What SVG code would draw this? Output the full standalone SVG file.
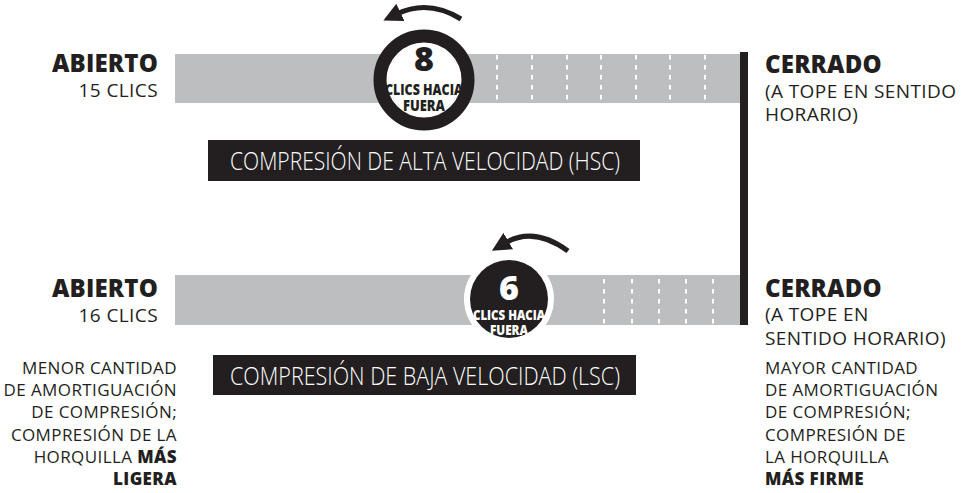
<svg xmlns="http://www.w3.org/2000/svg" width="970" height="493" viewBox="0 0 970 493">
<defs>
<marker id="ah" viewBox="0 0 10 10" refX="2" refY="5" markerWidth="3.8" markerHeight="3.8" orient="auto" markerUnits="strokeWidth">
<path d="M0,0 L10,5 L0,10 z" fill="#231f20"/>
</marker>
<style>
.bold{font-family:"Open Sans","Liberation Sans",sans-serif;font-weight:800;fill:#231f20}
.reg{font-family:"Open Sans","Liberation Sans",sans-serif;font-weight:400;fill:#231f20}
.bar{fill:#bcbec0}
.dash{stroke:#fff;stroke-width:2;stroke-dasharray:4.5,5.5}
.lbl{font-family:"Open Sans","Liberation Sans",sans-serif;font-weight:300;fill:#fff;font-size:25px}
.box{fill:#231f20}
.arc{fill:none;stroke:#231f20;stroke-width:5}
.dial{font-family:"Open Sans","Liberation Sans",sans-serif;font-weight:800}
.h1{font-size:24px;letter-spacing:0.2px}
.h2{font-size:19px;letter-spacing:0.4px}
.d{font-size:17px;letter-spacing:0.4px}
</style>
</defs>
<rect width="970" height="493" fill="#fff"/>

<g id="hsc-bar">
<rect class="bar" x="175" y="54" width="565" height="49"/>
<g class="dash">
<line x1="497" y1="55" x2="497" y2="103"/>
<line x1="532" y1="55" x2="532" y2="103"/>
<line x1="567" y1="55" x2="567" y2="103"/>
<line x1="601" y1="55" x2="601" y2="103"/>
<line x1="636" y1="55" x2="636" y2="103"/>
<line x1="670" y1="55" x2="670" y2="103"/>
<line x1="705" y1="55" x2="705" y2="103"/>
</g>
</g>

<g id="lsc-bar">
<rect class="bar" x="175" y="275" width="565" height="50"/>
<g class="dash">
<line x1="604" y1="279" x2="604" y2="325"/>
<line x1="632" y1="279" x2="632" y2="325"/>
<line x1="659" y1="279" x2="659" y2="325"/>
<line x1="686" y1="279" x2="686" y2="325"/>
<line x1="713" y1="279" x2="713" y2="325"/>
</g>
</g>

<g id="closed-line">
<rect x="740" y="52" width="8" height="273" fill="#231f20"/>
</g>

<g id="connectors">
<path class="arc" d="M461,19 Q428,-1 397,14" marker-end="url(#ah)"/>
<path class="arc" d="M568,251 Q534,226 505,243" marker-end="url(#ah)"/>
</g>

<g id="hsc-dial">
<circle cx="424" cy="80" r="44" fill="#fff" stroke="#231f20" stroke-width="13"/>
<text class="dial" x="424" y="71" font-size="34" text-anchor="middle" fill="#231f20">8</text>
<text class="dial" x="424" y="95" font-size="15" text-anchor="middle" fill="#231f20" textLength="78" lengthAdjust="spacingAndGlyphs">CLICS HACIA</text>
<text class="dial" x="424" y="111" font-size="15" text-anchor="middle" fill="#231f20" textLength="42" lengthAdjust="spacingAndGlyphs">FUERA</text>
</g>

<g id="lsc-dial">
<circle cx="509" cy="299" r="45" fill="#fff"/>
<circle cx="509" cy="299" r="39" fill="#231f20"/>
<text class="dial" x="509" y="300" font-size="34" text-anchor="middle" fill="#fff">6</text>
<text class="dial" x="509" y="320" font-size="14" text-anchor="middle" fill="#fff" textLength="72" lengthAdjust="spacingAndGlyphs">CLICS HACIA</text>
<text class="dial" x="509" y="335" font-size="14" text-anchor="middle" fill="#fff" textLength="38" lengthAdjust="spacingAndGlyphs">FUERA</text>
</g>

<g id="hsc-label">
<rect class="box" x="208" y="140" width="432" height="41"/>
<text class="lbl" x="425" y="170" text-anchor="middle" textLength="390" lengthAdjust="spacingAndGlyphs">COMPRESIÓN DE ALTA VELOCIDAD (HSC)</text>
</g>

<g id="lsc-label">
<rect class="box" x="213" y="355" width="423" height="40"/>
<text class="lbl" x="425" y="385" text-anchor="middle" textLength="390" lengthAdjust="spacingAndGlyphs">COMPRESIÓN DE BAJA VELOCIDAD (LSC)</text>
</g>

<g id="hsc-open">
<text class="bold h1" x="158" y="72" text-anchor="end">ABIERTO</text>
<text class="reg h2" x="158" y="97" text-anchor="end">15 CLICS</text>
</g>

<g id="hsc-closed">
<text class="bold h1" x="765" y="73">CERRADO</text>
<text class="reg h2" x="765" y="98">(A TOPE EN SENTIDO</text>
<text class="reg h2" x="765" y="121">HORARIO)</text>
</g>

<g id="lsc-open">
<text class="bold h1" x="158" y="297" text-anchor="end">ABIERTO</text>
<text class="reg h2" x="158" y="322" text-anchor="end">16 CLICS</text>
<g class="reg d" text-anchor="end">
<text x="177" y="374">MENOR CANTIDAD</text>
<text x="177" y="396">DE AMORTIGUACIÓN</text>
<text x="177" y="418">DE COMPRESIÓN;</text>
<text x="177" y="441">COMPRESIÓN DE LA</text>
<text x="177" y="463">HORQUILLA <tspan class="bold">MÁS</tspan></text>
<text x="177" y="485" class="bold">LIGERA</text>
</g>
</g>

<g id="lsc-closed">
<text class="bold h1" x="765" y="297">CERRADO</text>
<text class="reg h2" x="765" y="321">(A TOPE EN</text>
<text class="reg h2" x="765" y="345">SENTIDO HORARIO)</text>
<g class="reg d">
<text x="765" y="374">MAYOR CANTIDAD</text>
<text x="765" y="396">DE AMORTIGUACIÓN</text>
<text x="765" y="418">DE COMPRESIÓN;</text>
<text x="765" y="441">COMPRESIÓN DE</text>
<text x="765" y="463">LA HORQUILLA</text>
<text x="765" y="485" class="bold">MÁS FIRME</text>
</g>
</g>
</svg>
